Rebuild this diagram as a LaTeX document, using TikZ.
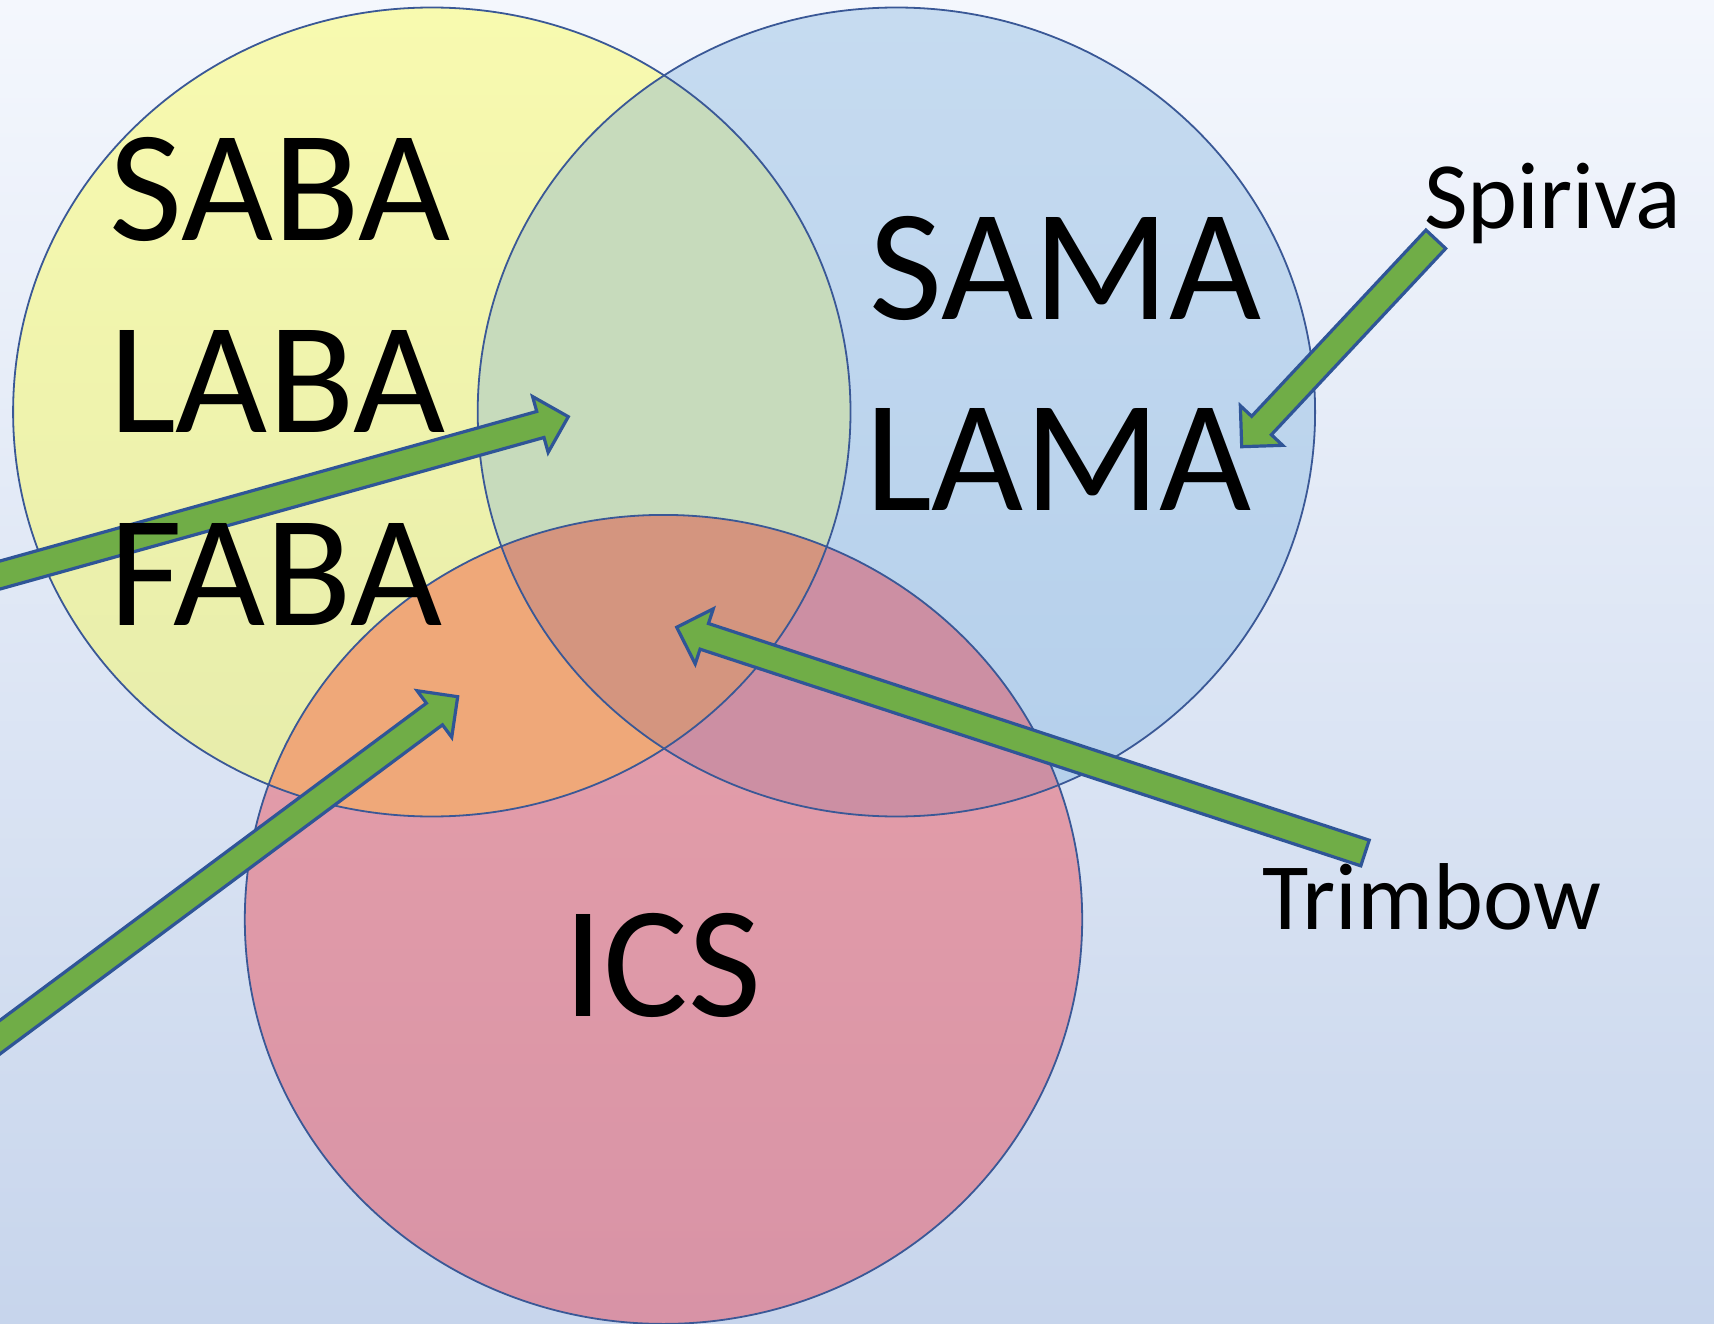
\documentclass[tikz,border=0pt]{standalone}
\usepackage{fontspec}
\setmainfont{Carlito}
\usetikzlibrary{calc}
\definecolor{bgtop}{HTML}{F4F7FD}
\definecolor{bgbot}{HTML}{C7D5EC}
\definecolor{ytop}{HTML}{F8FAAF}
\definecolor{ybot}{HTML}{E6ECAB}
\definecolor{btop}{HTML}{C6DBF0}
\definecolor{bbot}{HTML}{B4CFEB}
\definecolor{rtop}{HTML}{E6A0AA}
\definecolor{rbot}{HTML}{D893A6}
\definecolor{ygreen}{HTML}{C7DBBC}
\definecolor{yorange}{HTML}{EFA879}
\definecolor{bmauve}{HTML}{CC8FA3}
\definecolor{ytriple}{HTML}{D4957F}
\definecolor{circline}{HTML}{3A5896}
\definecolor{arrline}{HTML}{2F5597}
\definecolor{arrfill}{HTML}{70AD47}
\newcommand{\blockarrow}[2]{%
  \coordinate (hb) at ($(#2)!29pt!(#1)$);
  \draw[arrowstyle]
    ($(#1)!13.5pt!90:(#2)$) -- ($(hb)!13.5pt!-90:(#1)$) -- ($(hb)!29pt!-90:(#1)$) --
    (#2) -- ($(hb)!29pt!90:(#1)$) -- ($(hb)!13.5pt!90:(#1)$) -- ($(#1)!13.5pt!-90:(#2)$) -- cycle;
}
\begin{document}
\begin{tikzpicture}[x=1pt,y=-1pt,
  ring/.style={draw=circline, line width=1.8pt},
  arrowstyle/.style={draw=arrline, fill=arrfill, line width=3.2pt, line join=miter},
  big/.style={font=\fontsize{159}{190}\selectfont, inner sep=0pt, anchor=base west},
  small/.style={font=\fontsize{95}{112}\selectfont, inner sep=0pt, anchor=base west}]
\useasboundingbox (0,0) rectangle (1714,1324);
\clip (0,0) rectangle (1714,1324);
\shade[top color=bgtop, bottom color=bgbot] (0,0) rectangle (1714,1324);
\def\rx{418.7}\def\ry{404.5}
\coordinate (cY) at (431.8,412);
\coordinate (cB) at (896.4,412);
\coordinate (cR) at (663.5,919.4);
% plain circles
\shade[top color=ytop, bottom color=ybot] (cY) ellipse [x radius=\rx, y radius=\ry];
\shade[top color=btop, bottom color=bbot] (cB) ellipse [x radius=\rx, y radius=\ry];
\shade[top color=rtop, bottom color=rbot] (cR) ellipse [x radius=\rx, y radius=\ry];
% overlaps
\begin{scope}
  \clip (cY) ellipse [x radius=\rx, y radius=\ry];
  \fill[ygreen] (cB) ellipse [x radius=\rx, y radius=\ry];
  \fill[yorange] (cR) ellipse [x radius=\rx, y radius=\ry];
\end{scope}
\begin{scope}
  \clip (cB) ellipse [x radius=\rx, y radius=\ry];
  \fill[bmauve] (cR) ellipse [x radius=\rx, y radius=\ry];
  \clip (cY) ellipse [x radius=\rx, y radius=\ry];
  \fill[ytriple] (cR) ellipse [x radius=\rx, y radius=\ry];
\end{scope}
\draw[ring] (cY) ellipse [x radius=\rx, y radius=\ry];
\draw[ring] (cB) ellipse [x radius=\rx, y radius=\ry];
\draw[ring] (cR) ellipse [x radius=\rx, y radius=\ry];
% arrows
\coordinate (a1s) at (-20,580.6);   \coordinate (a1e) at (568.3,416.7);
\coordinate (a2s) at (-20,1052);    \coordinate (a2e) at (457.7,696.7);
\coordinate (a3s) at (1435.8,239.3); \coordinate (a3e) at (1241.7,446.7);
\coordinate (a4s) at (1365,853);    \coordinate (a4e) at (676.7,627.3);
\blockarrow{a1s}{a1e}
\blockarrow{a2s}{a2e}
\blockarrow{a3s}{a3e}
\blockarrow{a4s}{a4e}
% texts
\node[big] (saba) at (109,240.5) {SABA};
\node[big] (laba) at (109,432.9) {LABA};
\node[big] (faba) at (109,625.3) {FABA};
\node[big] (sama) at (869,319.2) {SAMA};
\node[big] (lama) at (865,510.5) {LAMA};
\node[big] (ics) at (563,1016.6) {ICS};
\node[small] (spiriva) at (1424,228.5) {Spiriva};
\node[small] (trimbow) at (1262,929.1) {Trimbow};
\end{tikzpicture}
\end{document}
